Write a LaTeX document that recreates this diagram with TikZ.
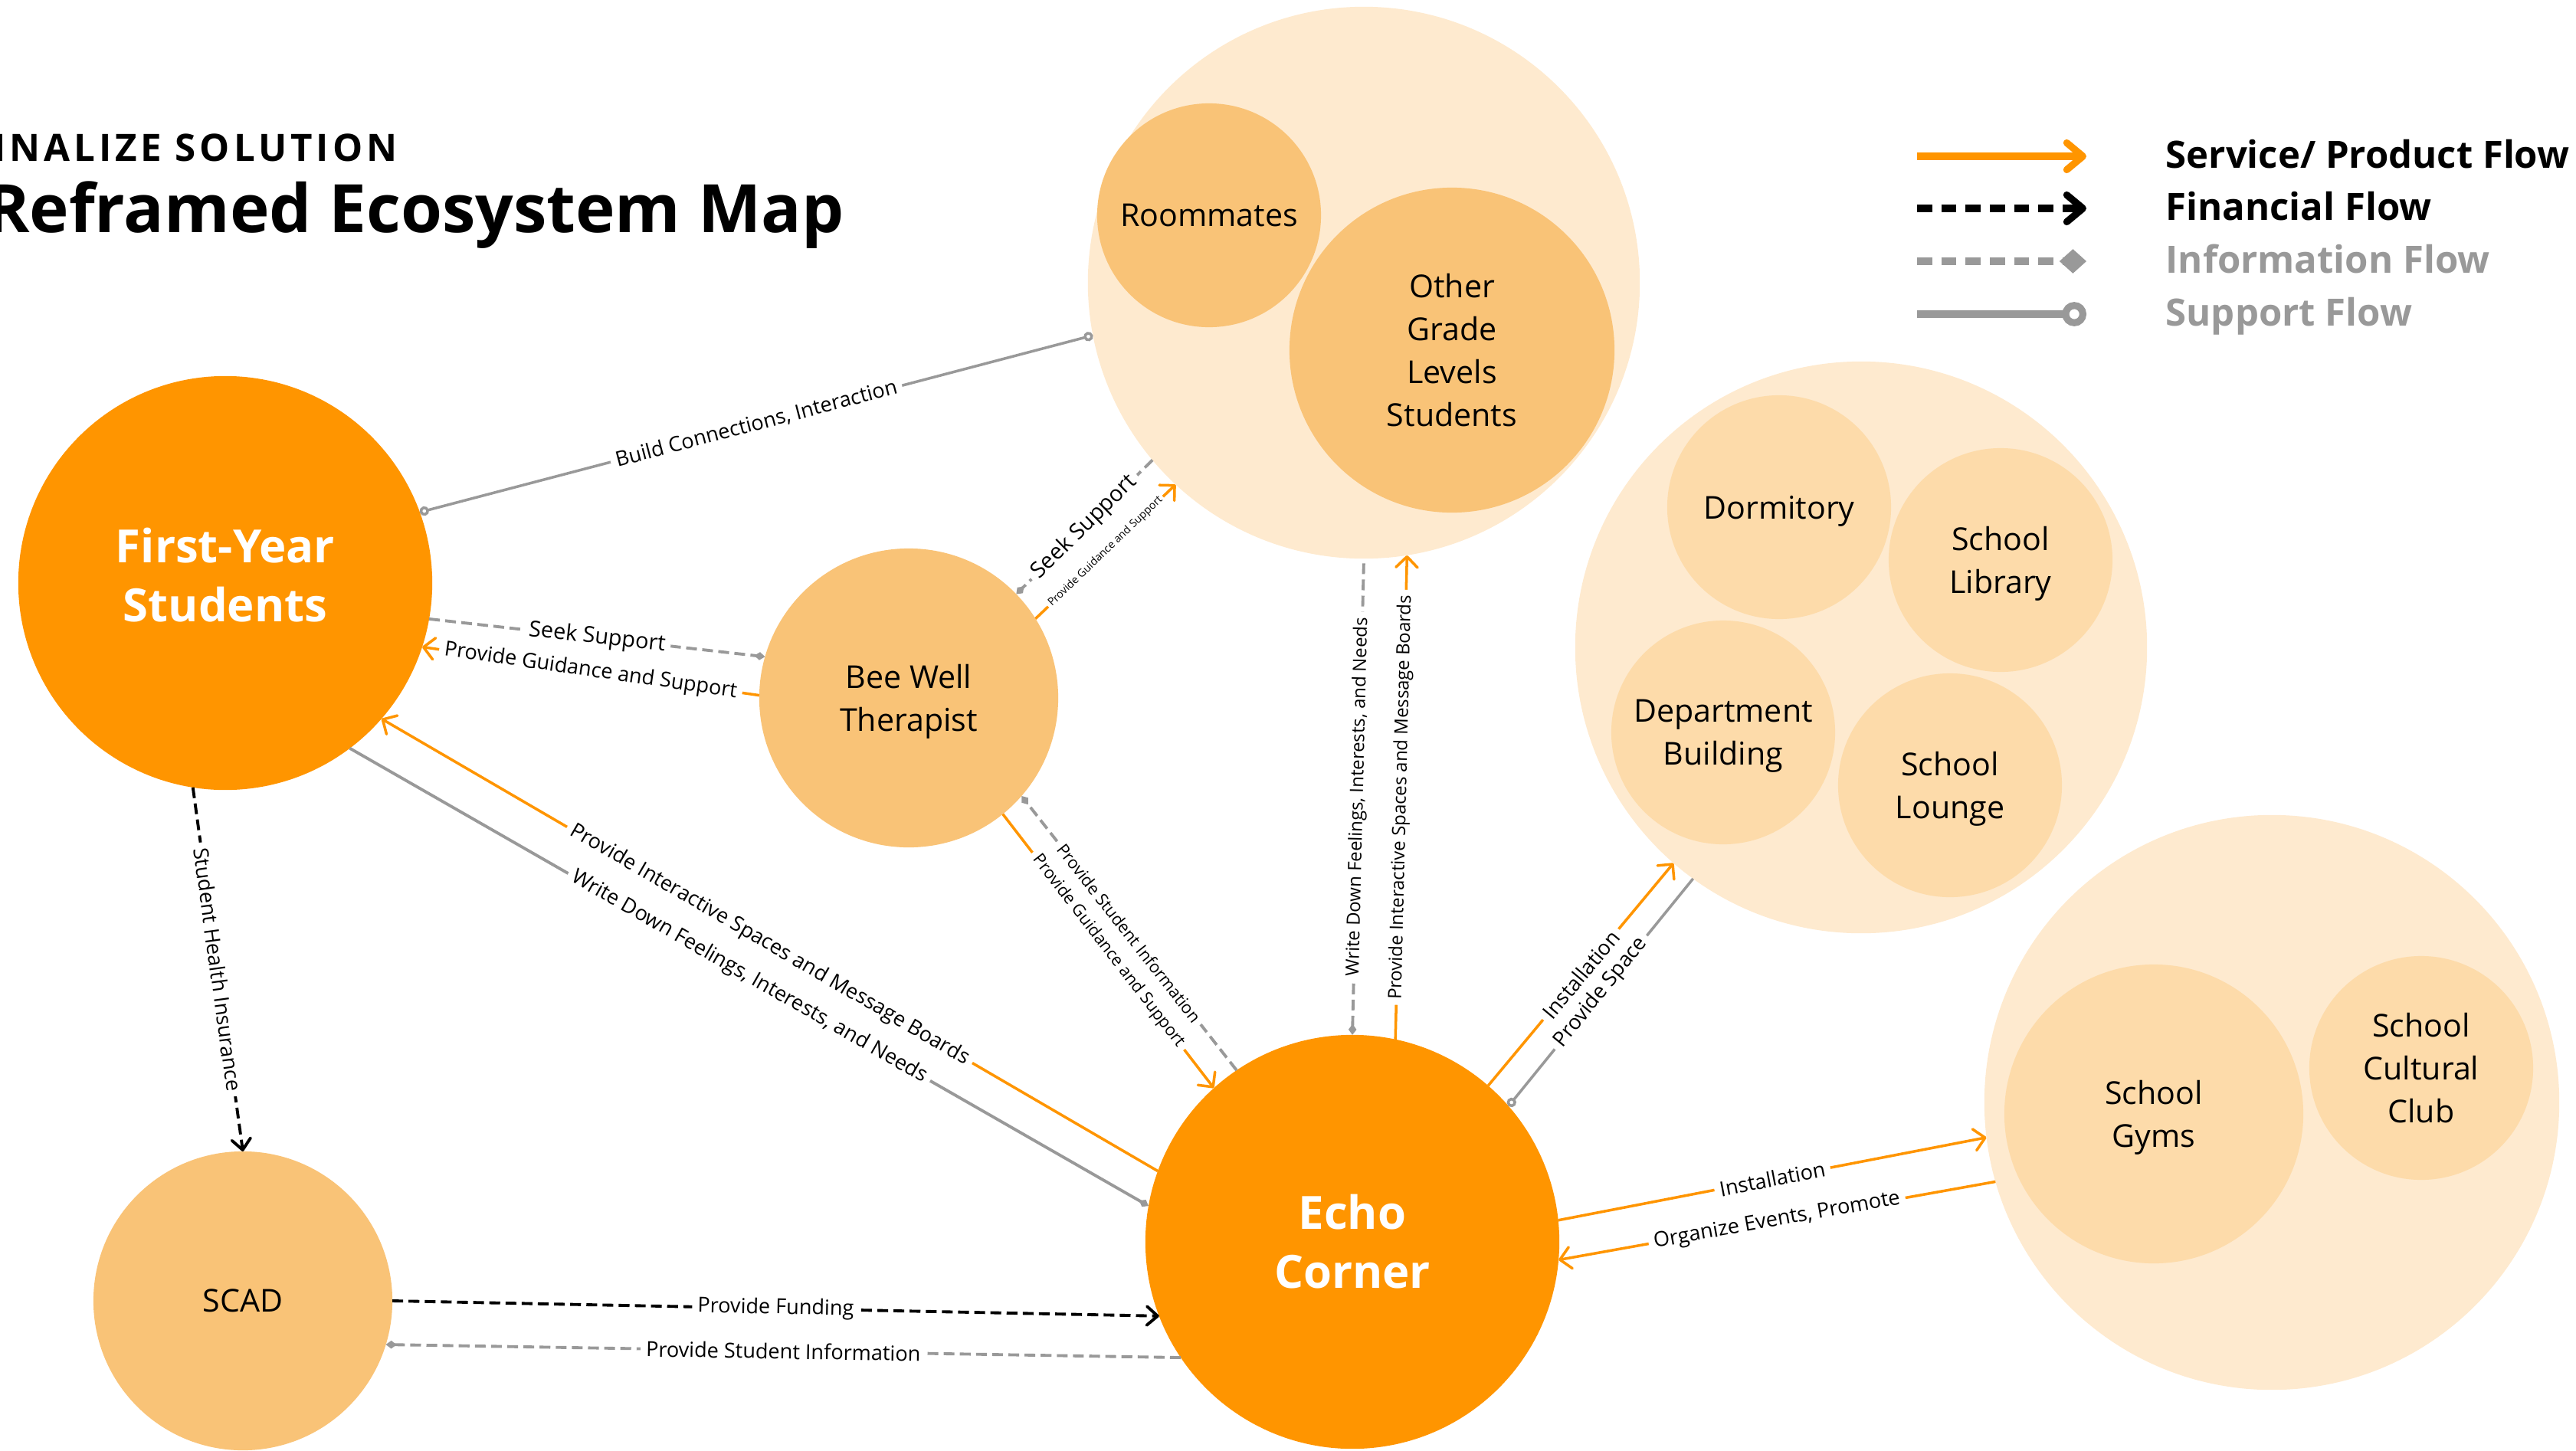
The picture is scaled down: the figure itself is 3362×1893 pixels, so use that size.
\documentclass[tikz,border=0pt]{standalone}
\usepackage{fontspec}
\setmainfont{Open Sans}
\usetikzlibrary{arrows.meta}
\definecolor{echoOrange}{HTML}{FF9500}
\definecolor{softOrange}{HTML}{F9C377}
\definecolor{paleOrange}{HTML}{FEEACF}
\definecolor{placeOrange}{HTML}{FDDBAA}
\definecolor{flowGray}{HTML}{999999}

\begin{document}
\begin{tikzpicture}[x=0.01cm, y=-0.01cm,
    grp/.style={circle, fill=paleOrange, inner sep=0pt, outer sep=0pt},
    place/.style={circle, fill=placeOrange, minimum size=2.92cm, inner sep=0pt,
      outer sep=0pt, align=center, text depth=0pt, font=\fontsize{11.7}{15.9}\selectfont},
    actor/.style={circle, fill=softOrange, inner sep=0pt, outer sep=0pt,
      align=center, text depth=0pt, font=\fontsize{11.7}{15.9}\selectfont},
    core/.style={circle, fill=echoOrange, minimum size=5.4cm, inner sep=0pt,
      outer sep=0pt, align=center, text=white, font=\fontsize{17}{21.9}\selectfont\bfseries},
    svc/.style={draw=echoOrange, line width=1pt, -{Straight Barb[round, length=4pt, width=8pt]}},
    fin/.style={draw=black, line width=1.1pt, dash pattern=on 4pt off 2pt,
      -{Straight Barb[round, length=4pt, width=7pt]}},
    info/.style={draw=flowGray, line width=1.1pt, dash pattern=on 4pt off 2pt,
      -{Diamond[length=4pt, width=3pt]}},
    supp/.style={draw=flowGray, line width=1pt, -{Circle[length=3.5pt, fill=white]}},
    lbl/.style={fill=white, inner sep=2pt, sloped, font=\fontsize{7.7}{9}\selectfont},
    key/.style={anchor=base west, inner sep=0pt, font=\fontsize{13.95}{16}\selectfont\bfseries}]
  \useasboundingbox (0,0) rectangle (3362,1893);
  \clip (0,0) rectangle (3362,1893);
  % title
  \node[anchor=base east, inner sep=0pt, font=\fontsize{14}{16}\selectfont\bfseries\addfontfeature{LetterSpace=10}] (stage) at (519,210) {FINALIZE SOLUTION};
  \node[anchor=base east, inner sep=0pt, font=\fontsize{24.8}{28}\selectfont\bfseries] (title) at (1102,303) {Reframed Ecosystem Map};
  % groups
  \node[grp, minimum size=7.2cm] (peers) at (1780,369) {};
  \node[grp, minimum size=7.46cm] (campus) at (2429,845) {};
  \node[grp, minimum size=7.5cm] (activity) at (2965,1439) {};
  \node[actor, minimum size=2.92cm] (room) at (1578,281) {Roommates};
  \node[actor, minimum size=4.24cm] (grade) at (1895,457) {Other\\Grade\\Levels\\Students};
  \node[place] (dorm) at (2322,662) {Dormitory};
  \node[place] (lib) at (2611,731) {School\\Library};
  \node[place] (dept) at (2249,956) {Department\\Building};
  \node[place] (lounge) at (2545,1025) {School\\Lounge};
  \node[place, minimum size=3.9cm] (gym) at (2811,1454) {School\\Gyms};
  \node[place] (club) at (3160,1394) {School\\Cultural\\Club};
  % actors
  \node[core, text depth=6.2pt] (fys) at (294,761) {First-Year\\Students};
  \node[core] (echo) at (1765,1621) {Echo\\Corner};
  \node[actor, minimum size=3.9cm] (bee) at (1186,911) {Bee Well\\Therapist};
  \node[actor, minimum size=3.9cm] (scad) at (317,1698) {SCAD};
  % flows
  \draw[supp, {Circle[length=3.5pt, fill=white]}-{Circle[length=3.5pt, fill=white]}] (fys.20) -- node[lbl]{Build Connections, Interaction} (peers.191);
  \draw[info] (fys.-10) -- node[lbl, font=\fontsize{8.2}{9}\selectfont]{Seek Support} (bee.164);
  \draw[svc] (bee.179) -- node[lbl]{Provide Guidance and Support} (fys.-18);
  \draw[info] (peers.220) -- node[lbl, font=\fontsize{8.2}{9}\selectfont]{Seek Support} (bee.44);
  \draw[svc] (bee.32) -- node[lbl, inner sep=1pt, font=\fontsize{4}{5}\selectfont]{Provide Guidance and Support} (peers.227);
  \draw[svc] (echo.160) -- node[lbl]{Provide Interactive Spaces and Message Boards} (fys.-41);
  \draw[info, solid] (fys.-53) -- node[lbl]{Write Down Feelings, Interests, and Needs} (echo.170);
  \draw[svc] (bee.-51) -- node[lbl, font=\fontsize{6.2}{7}\selectfont]{Provide Guidance and Support} (echo.132);
  \draw[info] (echo.124) -- node[lbl, font=\fontsize{6.2}{7}\selectfont]{Provide Student Information} (bee.-41);
  \draw[info, {Diamond[length=4pt, width=3pt]}-] (echo.90) -- node[lbl, font=\fontsize{6.8}{8}\selectfont]{Write Down Feelings, Interests, and Needs} (peers.270);
  \draw[svc] (echo.78) -- node[lbl, font=\fontsize{6.8}{8}\selectfont]{Provide Interactive Spaces and Message Boards} (peers.279);
  \draw[svc] (echo.49) -- node[lbl]{Installation} (campus.229);
  \draw[supp] (campus.234) -- node[lbl]{Provide Space} (echo.41);
  \draw[svc] (echo.6) -- node[lbl]{Installation} (activity.187);
  \draw[svc] (activity.196) -- node[lbl]{Organize Events, Promote} (echo.-5);
  \draw[fin] (fys.-99) -- node[lbl]{Student Health Insurance} (scad.90);
  \draw[fin] (scad.0) -- node[lbl]{Provide Funding} (echo.201);
  \draw[info] (echo.214) -- node[lbl]{Provide Student Information} (scad.-17);
  % legend
  \coordinate (k1a) at (2502,204); \coordinate (k1b) at (2723,204);
  \coordinate (k2a) at (2502,272); \coordinate (k2b) at (2723,272);
  \coordinate (k3a) at (2502,341); \coordinate (k3b) at (2723,341);
  \coordinate (k4a) at (2502,410); \coordinate (k4b) at (2723,410);
  \draw[svc, line width=2.6pt, -{Straight Barb[round, length=6pt, width=10pt]}] (k1a) -- (k1b);
  \draw[fin, line width=2.6pt, dash pattern=on 5.6pt off 3.4pt, -{Straight Barb[round, length=6pt, width=10pt]}] (k2a) -- (k2b);
  \draw[info, line width=2.6pt, dash pattern=on 5.6pt off 3.4pt, -{Diamond[length=10pt, width=9pt]}] (k3a) -- (k3b);
  \draw[supp, line width=2.6pt, -{Circle[length=9pt, fill=white]}] (k4a) -- (k4b);
  \node[key] (k1) at (2826,219) {Service/ Product Flow};
  \node[key] (k2) at (2826,287) {Financial Flow};
  \node[key, text=flowGray] (k3) at (2826,356) {Information Flow};
  \node[key, text=flowGray] (k4) at (2826,425) {Support Flow};
\end{tikzpicture}
\end{document}
